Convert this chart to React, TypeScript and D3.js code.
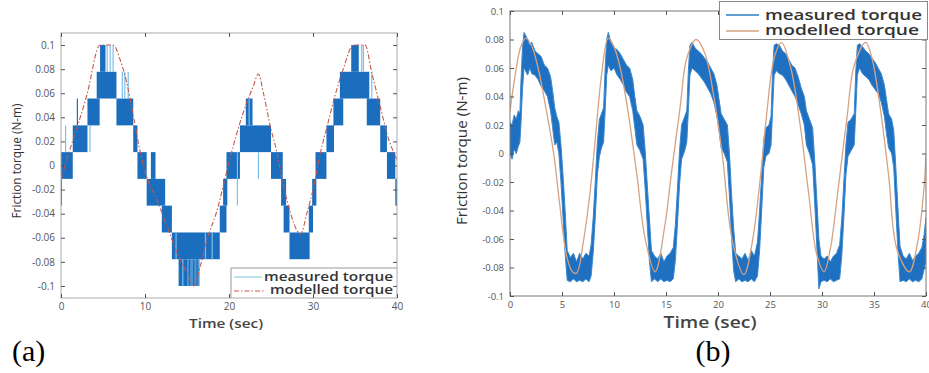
import React, { useEffect, useRef } from 'react';
import * as d3 from 'd3';

// ---------- panel (a) ----------
// quantisation levels of the measured torque (N-m)
const levelsA = [0.1, 0.0778, 0.0556, 0.0333, 0.0111, -0.0111, -0.0333, -0.0556, -0.0778, -0.1];

// measured torque flickers between two neighbouring levels: [t start, t end, upper level index]
const blocksA: [number, number, number][] = [
  [0, 1.4, 4], [1.4, 3.15, 3], [3.15, 4.6, 2], [4.25, 6.6, 1], [4.65, 5.3, 0],
  [6.6, 8.6, 2], [8.6, 9.1, 3], [9.1, 10.2, 4], [10.7, 11.25, 4], [10.2, 12.4, 5],
  [12.0, 13.2, 6], [13.2, 18.9, 7], [14.0, 15.0, 8], [18.9, 19.7, 6], [19.3, 19.8, 5],
  [19.7, 21.3, 4], [21.3, 25.0, 3], [22.0, 22.8, 2], [25.0, 26.4, 4], [26.2, 26.8, 5],
  [26.5, 27.2, 6], [27.2, 29.6, 7], [29.5, 30.0, 6], [29.9, 30.4, 5], [30.3, 31.6, 4],
  [31.6, 32.5, 3], [32.5, 33.6, 2], [33.2, 36.7, 1], [34.55, 35.45, 0], [36.4, 38.0, 2],
  [38.0, 38.8, 3], [38.8, 39.8, 4], [39.8, 40, 5],
];
// paler stretch of the lowest step
const paleBlocksA: [number, number, number][] = [[15.0, 16.5, 8]];

// single excursions: [t, upper level index, lower level index, pale?]
const spikesA: [number, number, number, number][] = [
  [0.05, 5, 6, 0], [0.55, 3, 4, 1], [1.95, 2, 3, 0], [3.45, 3, 4, 1],
  [5.5, 0, 1, 1], [5.85, 0, 1, 1], [6.2, 0, 1, 1], [7.3, 1, 2, 1], [7.6, 1, 2, 1], [8.0, 1, 2, 1],
  [13.7, 7, 8, 1], [14.5, 8, 9, 1], [15.3, 8, 9, 0], [15.8, 8, 9, 0], [16.2, 8, 9, 0],
  [17.2, 7, 8, 1], [18.0, 7, 8, 1], [21.0, 4, 6, 1], [22.4, 2, 3, 1], [23.5, 4, 5, 1],
  [32.5, 2, 3, 0], [35.8, 0, 1, 1], [36.0, 0, 1, 1], [37.0, 1, 2, 1], [39.95, 5, 6, 0],
];

// modelled torque (a): [t, torque]
const modelA: [number, number][] = [
  [0, -0.012], [1.0, 0.012], [2.07, 0.035], [3.06, 0.058], [4.65, 0.1], [6.24, 0.1],
  [7.03, 0.088], [7.82, 0.069], [8.62, 0.041], [9.2, 0.019], [10.2, -0.009], [11.4, -0.028],
  [12.6, -0.05], [13.8, -0.072], [15.0, -0.089], [15.8, -0.1], [16.6, -0.083], [17.4, -0.061],
  [18.5, -0.039], [19.7, -0.006], [20.5, 0.016], [21.7, 0.044], [22.9, 0.066], [23.5, 0.076],
  [24.1, 0.06], [24.9, 0.033], [25.7, 0.011], [26.5, -0.017], [27.3, -0.039], [28.1, -0.054],
  [28.5, -0.057], [29.3, -0.039], [30.1, -0.017], [30.9, 0.011], [31.7, 0.033], [32.5, 0.055],
  [33.6, 0.08], [34.8, 0.1], [36.2, 0.1], [37.0, 0.077], [38.0, 0.049], [39.0, 0.022], [40, 0.005],
];

const xTicksA = [0, 10, 20, 30, 40];

// ---------- panel (b) ----------
// measured torque band: [t, lower edge, upper edge]
const measuredB: [number, number, number][] = [
  [0.0, 0.0, 0.022], [0.2, -0.004, 0.02], [0.4, 0.003, 0.027], [0.6, 0.0, 0.024], [0.8, 0.005, 0.03],
  [0.95, 0.008, 0.028], [1.05, 0.02, 0.05], [1.2, 0.045, 0.074], [1.35, 0.06, 0.085], [1.5, 0.058, 0.083],
  [1.7, 0.055, 0.08], [1.9, 0.06, 0.076], [2.1, 0.056, 0.078], [2.4, 0.055, 0.072], [2.7, 0.052, 0.07],
  [3.0, 0.047, 0.068], [3.3, 0.044, 0.062], [3.6, 0.04, 0.06], [3.9, 0.03, 0.054], [4.1, 0.018, 0.044],
  [4.3, 0.006, 0.032], [4.5, 0.008, 0.026], [4.7, 0.0, 0.022], [4.9, -0.02, 0.006], [5.1, -0.045, -0.015],
  [5.3, -0.07, -0.04], [5.5, -0.089, -0.068], [5.8, -0.09, -0.073], [6.1, -0.088, -0.07], [6.4, -0.09, -0.076],
  [6.7, -0.089, -0.07], [7.0, -0.09, -0.074], [7.3, -0.088, -0.07], [7.6, -0.09, -0.072], [7.8, -0.086, -0.064],
  [8.0, -0.07, -0.045], [8.2, -0.045, -0.02], [8.4, -0.015, 0.008], [8.6, -0.002, 0.024], [8.8, 0.004, 0.028],
  [9.0, 0.008, 0.032], [9.15, 0.03, 0.06], [9.3, 0.055, 0.08], [9.45, 0.062, 0.085], [9.7, 0.058, 0.078],
  [10.0, 0.06, 0.074], [10.3, 0.055, 0.073], [10.6, 0.052, 0.07], [10.9, 0.048, 0.066], [11.2, 0.043, 0.062],
  [11.5, 0.04, 0.06], [11.8, 0.03, 0.052], [12.0, 0.018, 0.04], [12.2, 0.006, 0.03], [12.5, 0.002, 0.026],
  [12.8, -0.004, 0.02], [13.0, -0.025, 0.002], [13.2, -0.05, -0.022], [13.4, -0.075, -0.045], [13.6, -0.09, -0.068],
  [13.9, -0.088, -0.072], [14.2, -0.09, -0.074], [14.5, -0.088, -0.07], [14.8, -0.09, -0.076], [15.1, -0.089, -0.072],
  [15.4, -0.09, -0.07], [15.7, -0.088, -0.066], [15.9, -0.075, -0.05], [16.1, -0.05, -0.025], [16.3, -0.022, 0.002],
  [16.5, -0.004, 0.02], [16.8, 0.002, 0.026], [17.0, 0.008, 0.03], [17.15, 0.03, 0.058], [17.3, 0.055, 0.076],
  [17.5, 0.06, 0.078], [17.8, 0.058, 0.074], [18.1, 0.056, 0.072], [18.4, 0.053, 0.07], [18.7, 0.05, 0.067],
  [19.0, 0.046, 0.064], [19.3, 0.042, 0.06], [19.6, 0.036, 0.056], [19.9, 0.026, 0.048], [20.1, 0.016, 0.038],
  [20.3, 0.004, 0.028], [20.6, 0.0, 0.024], [20.9, -0.006, 0.02], [21.1, -0.03, 0.0], [21.3, -0.058, -0.028],
  [21.5, -0.082, -0.052], [21.7, -0.09, -0.07], [22.0, -0.088, -0.072], [22.3, -0.09, -0.074], [22.6, -0.089, -0.07],
  [22.9, -0.09, -0.075], [23.2, -0.088, -0.068], [23.5, -0.09, -0.072], [23.8, -0.086, -0.062], [24.0, -0.068, -0.04],
  [24.2, -0.04, -0.015], [24.4, -0.01, 0.01], [24.6, -0.002, 0.018], [24.9, 0.0, 0.02], [25.1, 0.006, 0.026],
  [25.25, 0.03, 0.058], [25.4, 0.055, 0.076], [25.6, 0.058, 0.077], [25.9, 0.056, 0.076], [26.2, 0.055, 0.072],
  [26.5, 0.052, 0.07], [26.8, 0.048, 0.066], [27.1, 0.044, 0.062], [27.4, 0.04, 0.06], [27.7, 0.034, 0.054],
  [28.0, 0.028, 0.046], [28.3, 0.02, 0.04], [28.5, 0.006, 0.03], [28.8, 0.0, 0.024], [29.1, -0.008, 0.018],
  [29.3, -0.035, -0.005], [29.5, -0.065, -0.032], [29.7, -0.095, -0.06], [29.9, -0.09, -0.072], [30.2, -0.089, -0.074],
  [30.5, -0.09, -0.072], [30.8, -0.088, -0.076], [31.1, -0.09, -0.072], [31.4, -0.089, -0.07], [31.7, -0.088, -0.064],
  [31.9, -0.072, -0.046], [32.1, -0.045, -0.02], [32.3, -0.015, 0.006], [32.5, -0.002, 0.022], [32.8, 0.002, 0.024],
  [33.1, 0.006, 0.028], [33.25, 0.03, 0.058], [33.4, 0.055, 0.076], [33.6, 0.06, 0.077], [33.9, 0.056, 0.075],
  [34.2, 0.054, 0.072], [34.5, 0.052, 0.07], [34.8, 0.048, 0.067], [35.1, 0.045, 0.064], [35.4, 0.042, 0.06],
  [35.7, 0.036, 0.056], [36.0, 0.026, 0.048], [36.2, 0.014, 0.038], [36.4, 0.004, 0.028], [36.7, 0.0, 0.024],
  [36.9, -0.01, 0.016], [37.1, -0.04, -0.01], [37.3, -0.068, -0.038], [37.5, -0.09, -0.065], [37.8, -0.089, -0.072],
  [38.1, -0.09, -0.074], [38.4, -0.088, -0.07], [38.7, -0.09, -0.075], [39.0, -0.089, -0.072], [39.3, -0.09, -0.07],
  [39.6, -0.088, -0.066], [39.8, -0.082, -0.058], [40.0, -0.075, -0.045],
];

// modelled torque (b): [t, torque]
const modelB: [number, number][] = [
  [0, 0.03], [0.5, 0.055], [1.0, 0.074], [1.5, 0.081], [2.0, 0.077], [2.7, 0.06], [3.5, 0.03],
  [4.2, 0.0], [4.8, -0.037], [5.45, -0.072], [6.0, -0.083], [6.4, -0.084], [7.05, -0.062],
  [7.7, -0.027], [8.3, 0.018], [8.8, 0.055], [9.45, 0.081], [10.0, 0.075], [10.6, 0.06],
  [11.4, 0.027], [12.2, -0.015], [13.0, -0.06], [13.95, -0.083], [14.9, -0.05], [15.5, -0.015],
  [16.35, 0.032], [17.0, 0.067], [17.9, 0.08], [18.75, 0.07], [19.6, 0.04], [20.4, 0.0],
  [21.4, -0.062], [22.5, -0.085], [23.3, -0.062], [24.1, -0.015], [24.7, 0.029], [25.4, 0.067],
  [26.1, 0.078], [27.0, 0.06], [27.9, 0.02], [28.7, -0.027], [29.5, -0.071], [30.2, -0.083],
  [30.8, -0.067], [31.6, -0.022], [32.4, 0.025], [33.1, 0.062], [34.2, 0.078], [34.8, 0.067],
  [35.6, 0.032], [36.4, -0.015], [37.2, -0.067], [38.4, -0.083], [39.2, -0.062], [39.8, -0.025], [40, -0.001],
];

const xTicksB = [0, 5, 10, 15, 20, 25, 30, 35, 40];
const yTicks = [0.1, 0.08, 0.06, 0.04, 0.02, 0, -0.02, -0.04, -0.06, -0.08, -0.1];
const yTickLabels = ['0.1', '0.08', '0.06', '0.04', '0.02', '0', '-0.02', '-0.04', '-0.06', '-0.08', '-0.1'];
const legendLabels = ['measured torque', 'modelled torque'];

const FONT = '"Open Sans", "DejaVu Sans", sans-serif';

const App = () => {
  const ref = useRef<SVGSVGElement>(null);

  useEffect(() => {
    const svg = d3.select(ref.current);
    svg.selectAll('*').remove();
    svg.append('rect').attr('width', 929).attr('height', 373).attr('fill', '#fff');

    const defs = svg.append('defs');

    // box with inward ticks on all four sides
    const frame = (g, x, y, xTicks, tickFont, boxColor) => {
      const [x0, x1] = x.range();
      const [y0, y1] = y.range();
      g.append('rect')
        .attr('x', x0).attr('y', y1).attr('width', x1 - x0).attr('height', y0 - y1)
        .attr('fill', 'none').attr('stroke', boxColor).attr('stroke-width', 1);
      const tickStyle = sel => {
        sel.select('.domain').remove();
        sel.selectAll('line').attr('stroke', '#555');
        sel.selectAll('text').attr('font-family', FONT).attr('font-size', tickFont).attr('fill', '#555');
      };
      g.append('g').attr('transform', `translate(0,${y0})`)
        .call(d3.axisBottom(x).tickValues(xTicks).tickSize(-4).tickPadding(5).tickFormat(d3.format('d')))
        .call(tickStyle);
      g.append('g').attr('transform', `translate(0,${y1})`)
        .call(d3.axisTop(x).tickValues(xTicks).tickSize(-4).tickFormat(() => ''))
        .call(tickStyle);
      g.append('g').attr('transform', `translate(${x0},0)`)
        .call(d3.axisLeft(y).tickValues(yTicks).tickSize(-4).tickPadding(6).tickFormat((d, i) => yTickLabels[i]))
        .call(tickStyle);
      g.append('g').attr('transform', `translate(${x1},0)`)
        .call(d3.axisRight(y).tickValues(yTicks).tickSize(-4).tickFormat(() => ''))
        .call(tickStyle);
    };

    // ---------- panel (a) ----------
    const xa = d3.scaleLinear().domain([0, 40]).range([61, 397]);
    const ya = d3.scaleLinear().domain([-0.11, 0.11]).range([298, 33]);
    defs.append('clipPath').attr('id', 'clipA').append('rect')
      .attr('x', 61).attr('y', 33).attr('width', 336).attr('height', 265);

    const ga = svg.append('g');
    const plotA = ga.append('g').attr('clip-path', 'url(#clipA)');

    const band = (arr, color) => plotA.append('g').selectAll('rect').data(arr).join('rect')
      .attr('x', d => xa(d[0]))
      .attr('width', d => xa(d[1]) - xa(d[0]))
      .attr('y', d => ya(levelsA[d[2]]))
      .attr('height', d => ya(levelsA[d[2] + 1]) - ya(levelsA[d[2]]))
      .attr('fill', color);
    band(blocksA, '#1b6dbd');
    band(paleBlocksA, '#4f97d4');

    plotA.append('g').selectAll('line').data(spikesA).join('line')
      .attr('x1', d => xa(d[0])).attr('x2', d => xa(d[0]))
      .attr('y1', d => ya(levelsA[d[1]])).attr('y2', d => ya(levelsA[d[2]]))
      .attr('stroke', d => (d[3] ? '#7cc0e8' : '#1b6dbd'))
      .attr('stroke-width', 1.2);

    plotA.append('path')
      .datum(modelA)
      .attr('d', d3.line().x(d => xa(d[0])).y(d => ya(d[1])).curve(d3.curveMonotoneX))
      .attr('fill', 'none').attr('stroke', '#c5584e').attr('stroke-width', 1.1)
      .attr('stroke-dasharray', '5,2,1.5,2');

    // legend (a)
    const lgA = ga.append('g');
    lgA.append('rect').attr('x', 231).attr('y', 268).attr('width', 166).attr('height', 30).attr('fill', '#fff');
    lgA.append('path').attr('d', 'M231,298V268H397').attr('fill', 'none').attr('stroke', '#999');
    lgA.append('line').attr('x1', 234).attr('x2', 262).attr('y1', 277).attr('y2', 277)
      .attr('stroke', '#8fd2e2').attr('stroke-width', 1.2);
    lgA.append('line').attr('x1', 234).attr('x2', 264).attr('y1', 291).attr('y2', 291)
      .attr('stroke', '#c5584e').attr('stroke-width', 1.2).attr('stroke-dasharray', '5,2,1.5,2');
    lgA.selectAll('text').data(legendLabels).join('text')
      .attr('x', (d, i) => (i ? 270 : 264)).attr('y', (d, i) => 280.5 + i * 13.5)
      .attr('textLength', (d, i) => (i ? 123 : 129)).attr('lengthAdjust', 'spacingAndGlyphs')
      .attr('font-family', FONT).attr('font-size', 12).attr('font-weight', 600).attr('fill', '#333')
      .text(d => d);

    frame(ga, xa, ya, xTicksA, 10, '#aaa');

    ga.append('text').attr('x', 226).attr('y', 328).attr('text-anchor', 'middle')
      .attr('textLength', 74).attr('lengthAdjust', 'spacingAndGlyphs')
      .attr('font-family', FONT).attr('font-size', 13).attr('font-weight', 600).attr('fill', '#444')
      .text('Time (sec)');
    ga.append('text').attr('transform', 'translate(21,161) rotate(-90)').attr('text-anchor', 'middle')
      .attr('textLength', 115).attr('lengthAdjust', 'spacingAndGlyphs')
      .attr('font-family', FONT).attr('font-size', 12).attr('fill', '#333')
      .text('Friction torque (N-m)');
    ga.append('text').attr('x', 12).attr('y', 361)
      .attr('font-family', '"Liberation Serif", serif').attr('font-size', 30).attr('fill', '#000')
      .text('(a)');

    // ---------- panel (b) ----------
    const xb = d3.scaleLinear().domain([0, 40]).range([510, 926]);
    const yb = d3.scaleLinear().domain([-0.1, 0.1]).range([296, 11]);
    defs.append('clipPath').attr('id', 'clipB').append('rect')
      .attr('x', 510).attr('y', 11).attr('width', 416).attr('height', 285);

    const gb = svg.append('g');
    const plotB = gb.append('g').attr('clip-path', 'url(#clipB)');

    plotB.append('path')
      .datum(measuredB)
      .attr('d', d3.area().x(d => xb(d[0])).y0(d => yb(d[1])).y1(d => yb(d[2])))
      .attr('fill', '#1f70c0').attr('stroke', '#3a88cf').attr('stroke-width', 1);

    plotB.append('path')
      .datum(modelB)
      .attr('d', d3.line().x(d => xb(d[0])).y(d => yb(d[1])).curve(d3.curveCatmullRom.alpha(0.5)))
      .attr('fill', 'none').attr('stroke', '#d6a283').attr('stroke-width', 1.3);

    frame(gb, xb, yb, xTicksB, 9.5, '#777');

    // legend (b)
    const lgB = gb.append('g');
    lgB.append('rect').attr('x', 719.5).attr('y', 1.5).attr('width', 208).attr('height', 38)
      .attr('fill', '#fff').attr('stroke', '#888');
    lgB.selectAll('line').data(legendLabels).join('line')
      .attr('x1', 726).attr('x2', 759).attr('y1', (d, i) => 15 + i * 16).attr('y2', (d, i) => 15 + i * 16)
      .attr('stroke', (d, i) => (i ? '#d6a283' : '#2f7cc4')).attr('stroke-width', 1.3);
    lgB.selectAll('text').data(legendLabels).join('text')
      .attr('x', 765).attr('y', (d, i) => 19.5 + i * 15.5)
      .attr('textLength', (d, i) => (i ? 154 : 157)).attr('lengthAdjust', 'spacingAndGlyphs')
      .attr('font-family', FONT).attr('font-size', 14.5).attr('font-weight', 600).attr('fill', '#333')
      .text(d => d);

    gb.append('text').attr('x', 710).attr('y', 328).attr('text-anchor', 'middle')
      .attr('textLength', 93).attr('lengthAdjust', 'spacingAndGlyphs')
      .attr('font-family', FONT).attr('font-size', 16).attr('font-weight', 600).attr('fill', '#444')
      .text('Time (sec)');
    gb.append('text').attr('transform', 'translate(467,151) rotate(-90)').attr('text-anchor', 'middle')
      .attr('textLength', 148).attr('lengthAdjust', 'spacingAndGlyphs')
      .attr('font-family', FONT).attr('font-size', 14).attr('fill', '#333')
      .text('Friction torque (N-m)');
    gb.append('text').attr('x', 713).attr('y', 361).attr('text-anchor', 'middle')
      .attr('font-family', '"Liberation Serif", serif').attr('font-size', 30).attr('fill', '#000')
      .text('(b)');
  }, []);

  return <svg ref={ref} width={929} height={373} style={{ position: 'absolute', left: 0, top: 0 }} />;
};

export default App;
